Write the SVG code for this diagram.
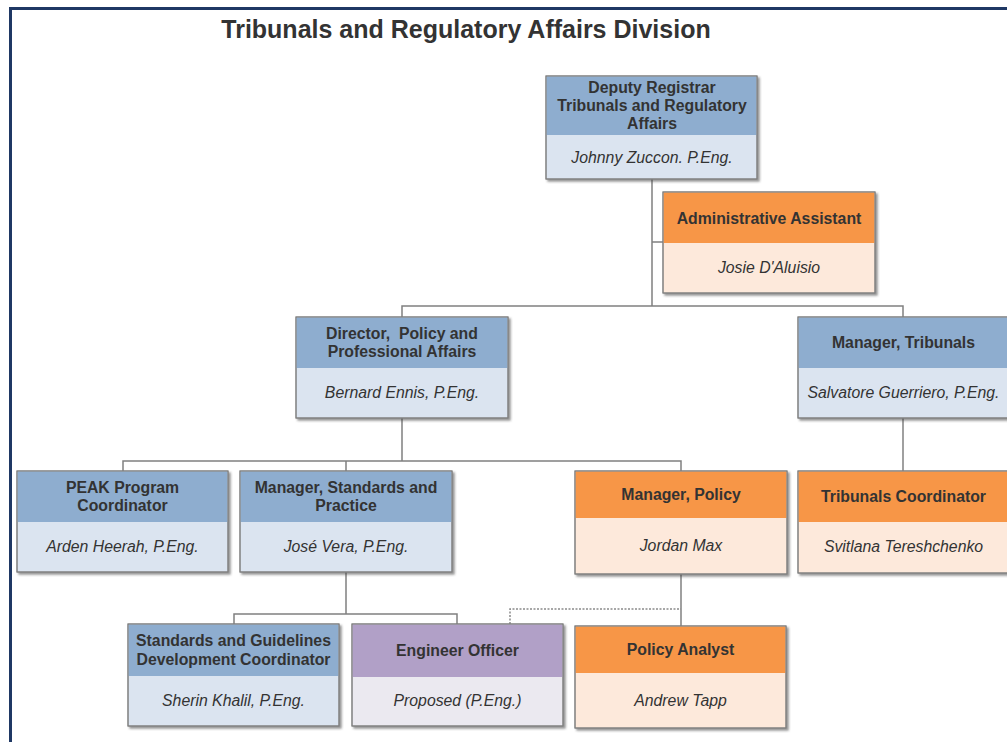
<svg xmlns="http://www.w3.org/2000/svg" width="1007" height="742" viewBox="0 0 1007 742">
<defs>
<filter id="sh" x="-5%" y="-5%" width="115%" height="120%">
<feDropShadow dx="2" dy="2" stdDeviation="1" flood-color="#404040" flood-opacity="0.55"/>
</filter>
</defs>
<style>
.t{font-family:"Liberation Sans",Arial,sans-serif;font-weight:bold;font-size:15.8px;fill:#333;text-anchor:middle;white-space:pre}
.n{font-family:"Liberation Sans",Arial,sans-serif;font-style:italic;font-size:15.8px;fill:#333;text-anchor:middle}
.box{stroke:#808080;stroke-width:1}
.bh{fill:#8eadcf}.bl{fill:#dbe4f0}
.oh{fill:#f79646}.ol{fill:#fde9db}
.ph{fill:#b1a0c7}.pl{fill:#ebe9f0}
.c{fill:none;stroke:#808080;stroke-width:1.5}
.d{fill:none;stroke:#8a8a8a;stroke-width:1.5;stroke-dasharray:2 1.5}
</style>
<rect width="1007" height="742" fill="#fff"/>
<rect x="10.5" y="8.5" width="1100" height="800" fill="none" stroke="#1f3864" stroke-width="3"/>
<text x="466" y="37.5" style="font-family:'Liberation Sans',Arial,sans-serif;font-weight:bold;font-size:25px;fill:#333;text-anchor:middle">Tribunals and Regulatory Affairs Division</text>

<g id="connectors">
<path class="c" d="M652 179V306M652 242H663"/>
<path class="c" d="M402 317V306H903V317"/>
<path class="c" d="M402 418V461M123 471V461H681V471M346 461V471"/>
<path class="c" d="M903 418V471"/>
<path class="c" d="M346 572V614M234 624V614H457V624"/>
<path class="c" d="M681 574V626"/>
<path class="d" d="M510 624V609H681"/>
</g>

<g id="deputy" filter="url(#sh)">
<rect class="bl box" x="546" y="76" width="211" height="103"/>
<rect class="bh" x="546.5" y="76.5" width="210" height="58.5"/>
<rect class="box" x="546" y="76" width="211" height="103" fill="none"/>
</g>
<text class="t" x="652" y="93">Deputy Registrar</text>
<text class="t" x="652" y="111">Tribunals and Regulatory</text>
<text class="t" x="652" y="129">Affairs</text>
<text class="n" x="652" y="163">Johnny Zuccon. P.Eng.</text>

<g id="admin" filter="url(#sh)">
<rect class="ol box" x="663" y="192" width="212" height="101"/>
<rect class="oh" x="663.5" y="192.5" width="211" height="50.5"/>
<rect class="box" x="663" y="192" width="212" height="101" fill="none"/>
</g>
<text class="t" x="769" y="223.5">Administrative Assistant</text>
<text class="n" x="769" y="273">Josie D'Aluisio</text>

<g id="director" filter="url(#sh)">
<rect class="bl box" x="296" y="317" width="212" height="101"/>
<rect class="bh" x="296.5" y="317.5" width="211" height="50.5"/>
<rect class="box" x="296" y="317" width="212" height="101" fill="none"/>
</g>
<text class="t" x="402" y="339" xml:space="preserve">Director,  Policy and</text>
<text class="t" x="402" y="357">Professional Affairs</text>
<text class="n" x="402" y="398">Bernard Ennis, P.Eng.</text>

<g id="mgr-tribunals" filter="url(#sh)">
<rect class="bl box" x="798" y="317" width="211" height="101"/>
<rect class="bh" x="798.5" y="317.5" width="210" height="50.5"/>
<rect class="box" x="798" y="317" width="211" height="101" fill="none"/>
</g>
<text class="t" x="903.5" y="348">Manager, Tribunals</text>
<text class="n" x="903.5" y="398">Salvatore Guerriero, P.Eng.</text>

<g id="peak" filter="url(#sh)">
<rect class="bl box" x="17" y="471" width="211" height="101"/>
<rect class="bh" x="17.5" y="471.5" width="210" height="50.5"/>
<rect class="box" x="17" y="471" width="211" height="101" fill="none"/>
</g>
<text class="t" x="122.5" y="493">PEAK Program</text>
<text class="t" x="122.5" y="511">Coordinator</text>
<text class="n" x="122.5" y="552">Arden Heerah, P.Eng.</text>

<g id="mgr-standards" filter="url(#sh)">
<rect class="bl box" x="240" y="471" width="212" height="101"/>
<rect class="bh" x="240.5" y="471.5" width="211" height="50.5"/>
<rect class="box" x="240" y="471" width="212" height="101" fill="none"/>
</g>
<text class="t" x="346" y="493">Manager, Standards and</text>
<text class="t" x="346" y="511">Practice</text>
<text class="n" x="346" y="552">José Vera, P.Eng.</text>

<g id="mgr-policy" filter="url(#sh)">
<rect class="ol box" x="575" y="471" width="212" height="103"/>
<rect class="oh" x="575.5" y="471.5" width="211" height="46.5"/>
<rect class="box" x="575" y="471" width="212" height="103" fill="none"/>
</g>
<text class="t" x="681" y="500">Manager, Policy</text>
<text class="n" x="681" y="551">Jordan Max</text>

<g id="trib-coord" filter="url(#sh)">
<rect class="ol box" x="798" y="471" width="211" height="102"/>
<rect class="oh" x="798.5" y="471.5" width="210" height="50.5"/>
<rect class="box" x="798" y="471" width="211" height="102" fill="none"/>
</g>
<text class="t" x="903.5" y="502">Tribunals Coordinator</text>
<text class="n" x="903.5" y="552">Svitlana Tereshchenko</text>

<g id="sg-coord" filter="url(#sh)">
<rect class="bl box" x="128" y="624" width="211" height="102"/>
<rect class="bh" x="128.5" y="624.5" width="210" height="51.5"/>
<rect class="box" x="128" y="624" width="211" height="102" fill="none"/>
</g>
<text class="t" x="233.5" y="646">Standards and Guidelines</text>
<text class="t" x="233.5" y="665">Development Coordinator</text>
<text class="n" x="233.5" y="706">Sherin Khalil, P.Eng.</text>

<g id="eng-officer" filter="url(#sh)">
<rect class="pl box" x="352" y="624" width="211" height="102"/>
<rect class="ph" x="352.5" y="624.5" width="210" height="52.5"/>
<rect class="box" x="352" y="624" width="211" height="102" fill="none"/>
</g>
<text class="t" x="457.5" y="656">Engineer Officer</text>
<text class="n" x="457.5" y="706">Proposed (P.Eng.)</text>

<g id="policy-analyst" filter="url(#sh)">
<rect class="ol box" x="575" y="626" width="211" height="102"/>
<rect class="oh" x="575.5" y="626.5" width="210" height="46.5"/>
<rect class="box" x="575" y="626" width="211" height="102" fill="none"/>
</g>
<text class="t" x="680.5" y="655">Policy Analyst</text>
<text class="n" x="680.5" y="706">Andrew Tapp</text>
</svg>
